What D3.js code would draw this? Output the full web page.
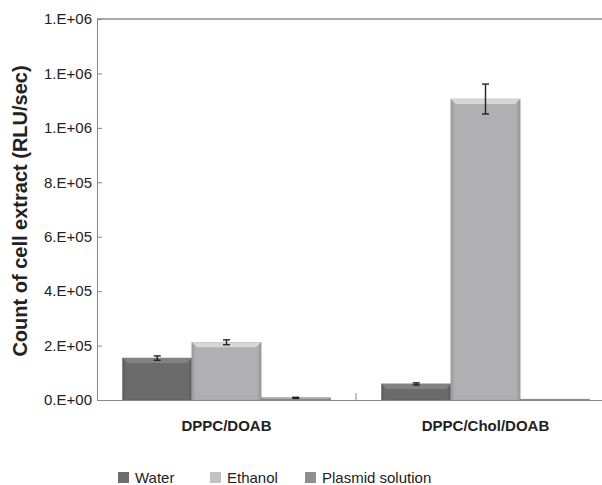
<!DOCTYPE html>
<html>
<head>
<meta charset="utf-8">
<script src="https://cdnjs.cloudflare.com/ajax/libs/d3/7.8.5/d3.min.js"></script>
<style>
  body { margin: 0; background: #fff; }
  svg { font-family: "Liberation Sans", Arial, sans-serif; }
</style>
</head>
<body>
<div id="chart"></div>
<script>
var categories = ["DPPC/DOAB", "DPPC/Chol/DOAB"];
var series = ["Water", "Ethanol", "Plasmid solution"];
var waterVals = [154000, 59000];
var ethanolVals = [212000, 1106000];
var plasmidVals = [8000, 3000];
var waterErr = [8000, 4000];
var ethanolErr = [9000, 55000];
var plasmidErr = [2000, 0];
var yTicks = [0, 200000, 400000, 600000, 800000, 1000000, 1200000, 1400000];
var yTickLabels = ["0.E+00", "2.E+05", "4.E+05", "6.E+05", "8.E+05", "1.E+06", "1.E+06", "1.E+06"];

var colors = ["#6b6b6b", "#b0b0b2", "#8d8d8d"];
var legendColors = ["#6d6d6d", "#c2c2c2", "#8f8f8f"];

var width = 602, height = 485;
var margin = {left: 97, top: 19, bottom: 85};
var plotW = 518; // plot runs past the right edge, as in the source

var svg = d3.select("#chart").append("svg")
  .attr("width", width).attr("height", height);

var x0 = d3.scaleBand().domain(categories)
  .range([margin.left, margin.left + plotW]);
var x1 = d3.scaleBand().domain(series)
  .range([0, x0.bandwidth()]).paddingOuter(0.37).paddingInner(0);
var y = d3.scaleLinear().domain([0, 1400000])
  .range([height - margin.bottom, margin.top]);

var vals = [waterVals, ethanolVals, plasmidVals];
var errs = [waterErr, ethanolErr, plasmidErr];

var defs = svg.append("defs");
colors.forEach(function(c, i) {
  var g = defs.append("linearGradient").attr("id", "side" + i)
    .attr("x1", 0).attr("x2", 1).attr("y1", 0).attr("y2", 0);
  g.append("stop").attr("offset", "0%").attr("stop-color", d3.color(c).darker(0.35));
  g.append("stop").attr("offset", "6%").attr("stop-color", c);
  g.append("stop").attr("offset", "94%").attr("stop-color", c);
  g.append("stop").attr("offset", "100%").attr("stop-color", d3.color(c).darker(0.45));
});

// top border
svg.append("line")
  .attr("x1", margin.left).attr("x2", width)
  .attr("y1", y(1400000)).attr("y2", y(1400000))
  .attr("stroke", "#555").attr("stroke-width", 1);

var data = [];
categories.forEach(function(cat, ci) {
  series.forEach(function(s, si) {
    data.push({cat: cat, s: s, si: si, v: vals[si][ci], e: errs[si][ci]});
  });
});

var bars = svg.append("g").selectAll("g.bar").data(data).enter().append("g");

bars.append("rect")
  .attr("x", function(d) { return x0(d.cat) + x1(d.s); })
  .attr("y", function(d) { return y(d.v); })
  .attr("width", x1.bandwidth())
  .attr("height", function(d) { return y(0) - y(d.v); })
  .attr("fill", function(d) { return "url(#side" + d.si + ")"; })
  .attr("stroke", function(d) { return d3.color(colors[d.si]).darker(0.3); })
  .attr("stroke-width", 0.6);

// bevel highlight on top edge
bars.append("path")
  .attr("d", function(d) {
    var xl = x0(d.cat) + x1(d.s), xr = xl + x1.bandwidth(), yt = y(d.v);
    var h = Math.min(5, (y(0) - yt) / 2);
    return "M" + xl + "," + yt + "L" + xr + "," + yt + "L" + (xr - h) + "," + (yt + h) +
      "L" + (xl + h) + "," + (yt + h) + "Z";
  })
  .attr("fill", function(d) { return d3.color(colors[d.si]).brighter(0.6); })
  .attr("opacity", 0.9);

// error bars
var eb = bars.filter(function(d) { return d.e > 0; }).append("g")
  .attr("stroke", "#222").attr("stroke-width", 1.4);
eb.append("line")
  .attr("x1", function(d) { return x0(d.cat) + x1(d.s) + x1.bandwidth() / 2; })
  .attr("x2", function(d) { return x0(d.cat) + x1(d.s) + x1.bandwidth() / 2; })
  .attr("y1", function(d) { return y(d.v + d.e); })
  .attr("y2", function(d) { return y(d.v - d.e); });
eb.selectAll("line.cap").data(function(d) { return [d.v + d.e, d.v - d.e].map(function(v) { return {d: d, v: v}; }); })
  .enter().append("line")
  .attr("x1", function(c) { return x0(c.d.cat) + x1(c.d.s) + x1.bandwidth() / 2 - 3.5; })
  .attr("x2", function(c) { return x0(c.d.cat) + x1(c.d.s) + x1.bandwidth() / 2 + 3.5; })
  .attr("y1", function(c) { return y(c.v); })
  .attr("y2", function(c) { return y(c.v); });

// y axis
var yAxis = svg.append("g").attr("transform", "translate(" + margin.left + ",0)")
  .call(d3.axisLeft(y).tickValues(yTicks)
    .tickFormat(function(d, i) { return yTickLabels[i]; })
    .tickSizeInner(-5).tickSizeOuter(0).tickPadding(5));
yAxis.select(".domain").attr("stroke", "#888");
yAxis.selectAll(".tick line").attr("stroke", "#888");
yAxis.selectAll(".tick text").attr("font-size", 15).attr("fill", "#222")
  .attr("font-family", "Liberation Sans, Arial, sans-serif");

// x axis
var xAxis = svg.append("g").attr("transform", "translate(0," + y(0) + ")")
  .call(d3.axisBottom(x0).tickSize(0).tickPadding(20));
xAxis.select(".domain").attr("stroke", "#888");
xAxis.selectAll(".tick text").attr("font-size", 15).attr("font-weight", "bold")
  .attr("fill", "#222").attr("font-family", "Liberation Sans, Arial, sans-serif");
xAxis.append("line")
  .attr("x1", x0(categories[1])).attr("x2", x0(categories[1]))
  .attr("y1", 0).attr("y2", -7).attr("stroke", "#888");

// y title
svg.append("text")
  .attr("transform", "translate(27,211) rotate(-90)")
  .attr("text-anchor", "middle")
  .attr("font-size", 20).attr("font-weight", "bold").attr("fill", "#222")
  .text("Count of cell extract (RLU/sec)");

// legend
var legendX = [118, 210, 305];
var lg = svg.append("g").selectAll("g").data(series).enter().append("g")
  .attr("transform", function(d, i) { return "translate(" + legendX[i] + ",472)"; });
lg.append("rect").attr("width", 11).attr("height", 11)
  .attr("fill", function(d, i) { return legendColors[i]; });
lg.append("text").attr("x", 17).attr("y", 11).attr("font-size", 15).attr("fill", "#222")
  .text(function(d) { return d; });
</script>
</body>
</html>
